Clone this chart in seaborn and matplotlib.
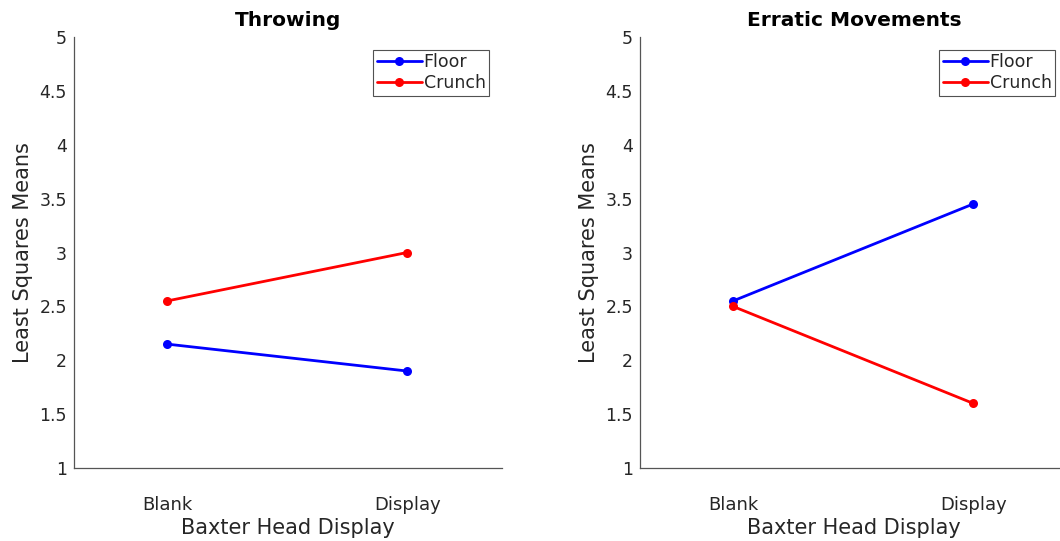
import numpy as np
import pandas as pd
import matplotlib
matplotlib.use("Agg")
import matplotlib.pyplot as plt
import seaborn as sns
from matplotlib.ticker import FuncFormatter

# ---- data ----
conditions = ["Blank", "Display"]
groups = ["Floor", "Crunch"]
titles = ["Throwing", "Erratic Movements"]
throwing_floor = [2.15, 1.90]
throwing_crunch = [2.55, 3.00]
erratic_floor = [2.55, 3.45]
erratic_crunch = [2.50, 1.60]
yticks = [1, 1.5, 2, 2.5, 3, 3.5, 4, 4.5, 5]

panels = [(throwing_floor, throwing_crunch), (erratic_floor, erratic_crunch)]

sns.set_theme(style="white")
plt.rcParams['font.family'] = ['DejaVu Sans']

fig = plt.figure(figsize=(10.6, 5.41), dpi=100)
W, H = 1060, 541
ax_pos = [(74, 37, 428, 431), (640, 37, 428, 431)]
palette = {"Floor": "#0000ff", "Crunch": "#ff0000"}
txt = "#262626"

for i, ((floor_vals, crunch_vals), title) in enumerate(zip(panels, titles)):
    x0, y0, w, h = ax_pos[i]
    ax = fig.add_axes([x0 / W, 1 - (y0 + h) / H, w / W, h / H])
    df = pd.DataFrame({
        "x": [1, 2, 1, 2],
        "cond": conditions + conditions,
        "group": [groups[0]] * 2 + [groups[1]] * 2,
        "value": list(floor_vals) + list(crunch_vals),
    })
    sns.lineplot(data=df, x="x", y="value", hue="group", hue_order=groups,
                 palette=palette, marker="o", markersize=6.5, markeredgewidth=0,
                 linewidth=2.0, ax=ax)
    ax.set_xlim(0.613, 2.395)
    ax.set_ylim(1, 5)
    ax.set_xticks([1, 2])
    ax.set_xticklabels(conditions)
    ax.set_yticks(yticks)
    ax.yaxis.set_major_formatter(FuncFormatter(lambda v, p: f"{v:g}"))
    ax.tick_params(direction="in", length=4, width=0.8, colors="#404040",
                   labelcolor=txt, labelsize=12.5, pad=5)
    ax.tick_params(axis="x", labelsize=13, pad=20)
    for s in ["top", "right"]:
        ax.spines[s].set_visible(False)
    for s in ["left", "bottom"]:
        ax.spines[s].set_color("#555555")
        ax.spines[s].set_linewidth(0.9)
    ax.set_xlabel("Baxter Head Display", fontsize=15, color=txt, labelpad=3)
    ax.set_ylabel("Least Squares Means", fontsize=15, color=txt, labelpad=5)
    ax.set_title(title, fontsize=14.5, fontweight="bold", color="black", pad=8)
    leg = ax.legend(loc="upper right", bbox_to_anchor=(1 - 13 / w, 1 - 13 / h),
                    borderaxespad=0, fontsize=12.5, frameon=True, fancybox=False,
                    handlelength=2.6, handletextpad=0.1, labelspacing=0.15,
                    borderpad=0.2, title=None)
    leg.get_frame().set_edgecolor("#262626")
    leg.get_frame().set_linewidth(0.8)
    for t in leg.get_texts():
        t.set_color(txt)

fig.savefig("out.png", dpi=100, facecolor="white")
